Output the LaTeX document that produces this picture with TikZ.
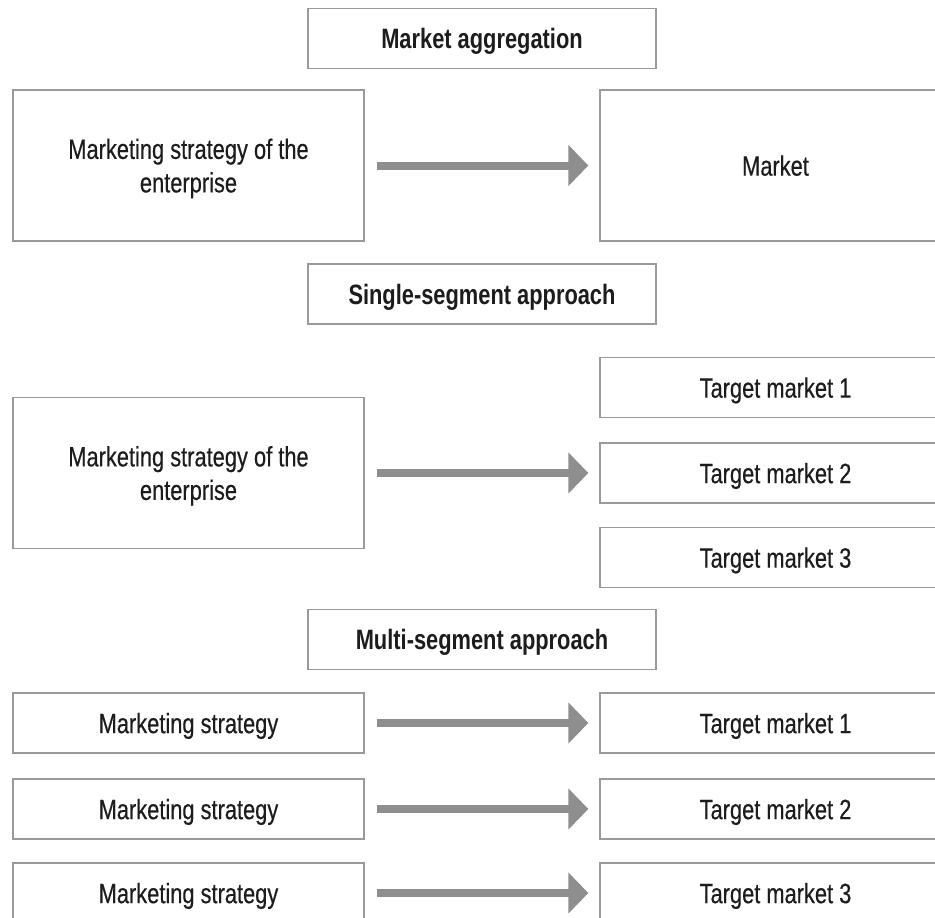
\documentclass[tikz,border=0pt]{standalone}
\usepackage{fontspec}
\setmainfont[FakeStretch=0.78, UprightFeatures={FakeBold=0.4}]{Liberation Sans}
\usetikzlibrary{arrows.meta}
\definecolor{boxline}{HTML}{9A9A9A}
\definecolor{arrowgray}{HTML}{8E8E8E}
\definecolor{txt}{HTML}{1C1C1C}
\tikzset{
  box/.style={draw=boxline, line width=1.3pt, inner sep=0pt, align=center,
    text=txt, text depth=0pt, font=\fontsize{28}{33.5}\selectfont},
  titlebox/.style={box, minimum width=348pt, minimum height=60pt,
    font=\fontsize{28}{33.5}\selectfont\bfseries},
  bigbox/.style={box, minimum width=351pt, minimum height=151pt},
  twoline/.style={text depth=-5pt},
  smallbox/.style={box, minimum width=351pt, minimum height=60pt},
  flow/.style={draw=arrowgray, line width=8pt, shorten <=12pt, shorten >=11pt,
    -{Triangle[length=20pt,width=40pt]}, arrowgray}
}
\begin{document}
\begin{tikzpicture}[x=1pt, y=-1pt]
\useasboundingbox (0,0) rectangle (935,918);
\clip (0,0) rectangle (935,918);

% Market aggregation
\node[titlebox] (t1) at (482,38.5) {Market aggregation};
\node[bigbox, twoline] (s1) at (188.5,165.5) {Marketing strategy of the\\enterprise};
\node[bigbox] (m1) at (775.5,165.5) {Market};
\draw[flow] (s1) -- (m1);

% Single-segment approach
\node[titlebox] (t2) at (482,294) {Single-segment approach};
\node[bigbox, twoline] (s2) at (188.5,473) {Marketing strategy of the\\enterprise};
\node[smallbox] (m21) at (775.5,387.5) {Target market 1};
\node[smallbox] (m22) at (775.5,473) {Target market 2};
\node[smallbox] (m23) at (775.5,557.5) {Target market 3};
\draw[flow] (s2) -- (m22);

% Multi-segment approach
\node[titlebox] (t3) at (482,639.5) {Multi-segment approach};
\node[smallbox] (s31) at (188.5,723) {Marketing strategy};
\node[smallbox] (s32) at (188.5,809) {Marketing strategy};
\node[smallbox] (s33) at (188.5,893) {Marketing strategy};
\node[smallbox] (m31) at (775.5,723) {Target market 1};
\node[smallbox] (m32) at (775.5,809) {Target market 2};
\node[smallbox] (m33) at (775.5,893) {Target market 3};
\draw[flow] (s31) -- (m31);
\draw[flow] (s32) -- (m32);
\draw[flow] (s33) -- (m33);
\end{tikzpicture}
\end{document}
